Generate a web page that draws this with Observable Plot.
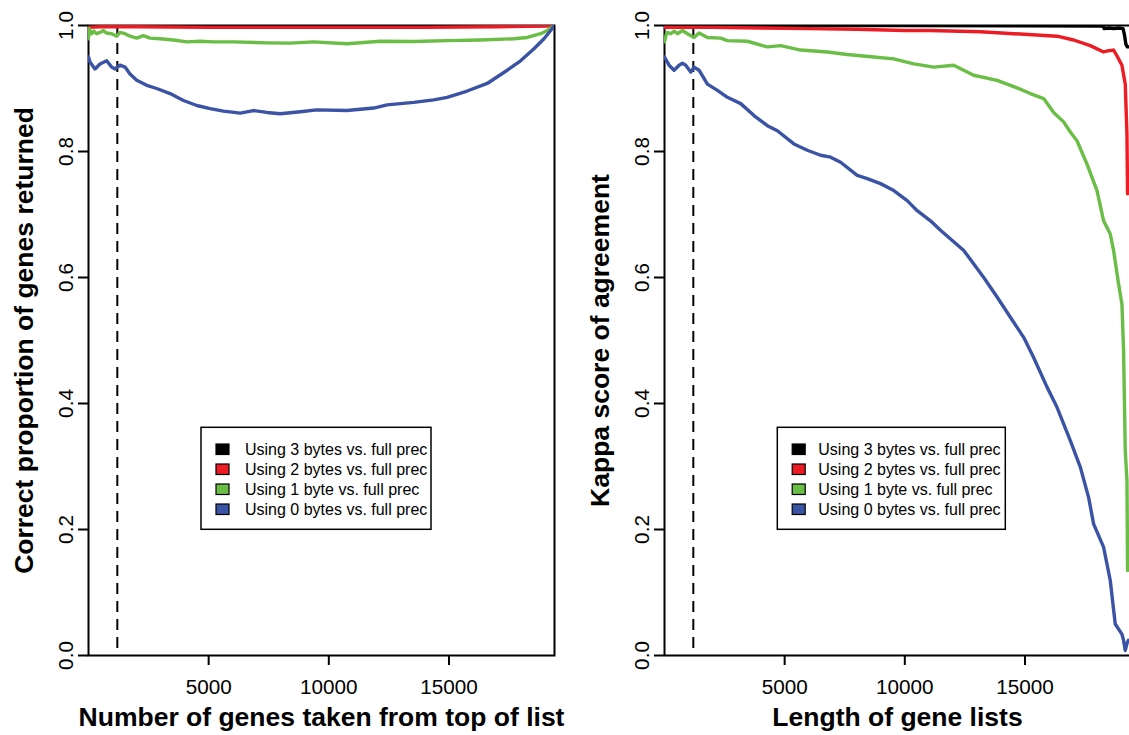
<!DOCTYPE html>
<html><head><meta charset="utf-8">
<script src="https://cdn.jsdelivr.net/npm/d3@7"></script>
<script src="https://cdn.jsdelivr.net/npm/@observablehq/plot@0.6"></script>
<style>
html,body{margin:0;padding:0;background:#fff;overflow:hidden;}
#wrap{display:flex;width:1129px;height:735px;overflow:hidden;}
#wrap svg{flex:none;display:block;}
</style></head><body><div id="wrap"></div>
<script>
// ---------- data ----------
const seriesNames = ["Using 3 bytes vs. full prec", "Using 2 bytes vs. full prec", "Using 1 byte vs. full prec", "Using 0 bytes vs. full prec"];
const seriesColors = ["#000000", "#ED1C24", "#6ABD45", "#3A53A4"];
const xTicks = [5000, 10000, 15000];
const yTicks = [0, 0.2, 0.4, 0.6, 0.8, 1.0];
const nGenes = 19390;
const geneCutoff = 1200;

const leftXTitle = "Number of genes taken from top of list";
const leftYTitle = "Correct proportion of genes returned";
const rightXTitle = "Length of gene lists";
const rightYTitle = "Kappa score of agreement";

// left panel: correct proportion of genes returned
const left3X = [1, 5000, 10000, 15000, 19390];
const left3Y = [1.0, 0.9995, 0.9995, 0.9995, 1.0];
const left2X = [1, 500, 2000, 5000, 8000, 11000, 14000, 17000, 19000, 19390];
const left2Y = [0.997, 0.998, 0.998, 0.997, 0.997, 0.997, 0.997, 0.998, 0.999, 1.0];
const left1X = [1, 35, 133, 229, 340, 479, 618, 757, 965, 1174, 1313, 1521, 1729, 2007, 2285, 2563, 2980, 3535, 4091, 4646, 5202, 6035, 7424, 8400, 9368, 10757, 12146, 13535, 14924, 16313, 17702, 18257, 18813, 19090, 19390];
const left1Y = [0.979, 0.995, 0.987, 0.991, 0.987, 0.989, 0.992, 0.988, 0.987, 0.983, 0.989, 0.987, 0.983, 0.980, 0.984, 0.980, 0.979, 0.977, 0.974, 0.975, 0.974, 0.974, 0.9725, 0.972, 0.974, 0.971, 0.975, 0.9746, 0.976, 0.977, 0.979, 0.981, 0.987, 0.992, 1.0];
const left0X = [1, 62, 271, 479, 757, 965, 1104, 1313, 1521, 1729, 2007, 2424, 2841, 3396, 3951, 4507, 5063, 5618, 6313, 6868, 7424, 7979, 8813, 9500, 10757, 11868, 12424, 13535, 14368, 14924, 15757, 16591, 17424, 17979, 18535, 18952, 19230, 19390];
const left0Y = [0.950, 0.942, 0.931, 0.939, 0.944, 0.934, 0.931, 0.937, 0.934, 0.923, 0.913, 0.905, 0.900, 0.892, 0.881, 0.873, 0.868, 0.864, 0.861, 0.865, 0.862, 0.860, 0.863, 0.866, 0.865, 0.869, 0.874, 0.878, 0.882, 0.886, 0.896, 0.908, 0.929, 0.944, 0.963, 0.979, 0.992, 1.0];

// right panel: kappa score of agreement
const right3X = [1, 5000, 10000, 15000, 18250, 18300, 18500, 18700, 18900, 19080, 19140, 19200, 19260, 19300];
const right3Y = [1.0, 1.0, 1.0, 0.9995, 0.999, 0.995, 0.996, 0.995, 0.996, 0.995, 0.985, 0.970, 0.966, 0.966];
const right2X = [1, 2000, 4000, 6000, 8000, 10000, 11064, 13145, 14530, 16333, 17023, 17717, 18270, 18478, 18686, 18825, 19033, 19172, 19242, 19267];
const right2Y = [0.997, 0.997, 0.996, 0.995, 0.994, 0.992, 0.992, 0.990, 0.987, 0.983, 0.977, 0.968, 0.958, 0.960, 0.961, 0.952, 0.937, 0.907, 0.828, 0.733];
const right1X = [1, 96, 262, 401, 540, 748, 956, 1230, 1438, 1787, 2340, 2618, 3450, 4281, 4834, 5665, 6774, 7605, 8711, 9542, 10373, 11205, 12035, 12867, 13839, 14670, 15223, 15777, 16193, 16608, 16886, 17164, 17580, 17996, 18270, 18548, 18686, 18893, 19033, 19102, 19172, 19242, 19268];
const right1Y = [0.974, 0.989, 0.987, 0.991, 0.987, 0.992, 0.987, 0.981, 0.988, 0.981, 0.980, 0.976, 0.975, 0.966, 0.968, 0.961, 0.958, 0.954, 0.950, 0.947, 0.939, 0.934, 0.937, 0.921, 0.913, 0.901, 0.892, 0.884, 0.862, 0.847, 0.831, 0.817, 0.780, 0.738, 0.690, 0.669, 0.643, 0.590, 0.558, 0.484, 0.325, 0.278, 0.135];
const right0X = [1, 192, 401, 609, 748, 886, 1094, 1230, 1438, 1787, 2203, 2618, 3171, 3725, 4281, 4697, 5386, 5943, 6496, 6912, 7327, 8021, 8437, 8989, 9542, 9820, 10099, 10515, 11068, 11484, 12452, 13283, 13839, 14392, 14945, 15360, 15917, 16333, 16886, 17302, 17647, 17854, 18270, 18548, 18755, 19033, 19102, 19172, 19242, 19300];
const right0Y = [0.950, 0.937, 0.929, 0.937, 0.940, 0.937, 0.926, 0.934, 0.929, 0.907, 0.897, 0.886, 0.876, 0.857, 0.841, 0.833, 0.812, 0.802, 0.794, 0.791, 0.783, 0.762, 0.757, 0.749, 0.738, 0.730, 0.722, 0.706, 0.690, 0.675, 0.643, 0.600, 0.569, 0.537, 0.505, 0.473, 0.426, 0.394, 0.341, 0.299, 0.251, 0.209, 0.172, 0.119, 0.050, 0.034, 0.024, 0.008, 0.019, 0.024];

// ---------- drawing ----------
const FONT = "'Liberation Sans', Arial, Helvetica, sans-serif";
const zip = (xs, ys) => xs.map((x, i) => ({x, y: ys[i]}));

function panel({width, marginRight, series, xTitle, yTitle, frame, legend}) {
  const marks = [];
  if (frame) marks.push(Plot.frame({stroke: "black", strokeWidth: 2}));
  else {
    marks.push(Plot.ruleY([0, 1], {stroke: "black", strokeWidth: 2}));
    marks.push(Plot.ruleX([1], {stroke: "black", strokeWidth: 2}));
  }
  marks.push(Plot.axisX({ticks: xTicks, tickSize: 10, tickFormat: () => "", label: null, strokeWidth: 2}));
  marks.push(Plot.axisY({ticks: yTicks, tickSize: 10, tickFormat: () => "", label: null, strokeWidth: 2}));
  marks.push(Plot.ruleX([geneCutoff], {stroke: "black", strokeWidth: 2, strokeDasharray: "11,7"}));
  series.forEach((s, i) => {
    marks.push(Plot.line(zip(s[0], s[1]), {x: "x", y: "y", stroke: seriesColors[i], strokeWidth: 3.4, strokeLinejoin: "round", clip: true}));
  });
  marks.push(Plot.text(xTicks, {x: d => d, frameAnchor: "bottom", dy: 38, lineAnchor: "bottom", textAnchor: "middle", text: d => String(d), fontSize: 20.7, fontFamily: FONT, fill: "black"}));
  marks.push(Plot.text(yTicks, {y: d => d, frameAnchor: "left", dx: -16, rotate: -90, lineAnchor: "bottom", textAnchor: "middle", text: d => d3.format(".1f")(d), fontSize: 20.7, fontFamily: FONT, fill: "black"}));
  marks.push(Plot.text([xTitle], {frameAnchor: "bottom", dy: 70, lineAnchor: "bottom", textAnchor: "middle", text: d => d, fontSize: 26.5, fontWeight: "bold", fontFamily: FONT, fill: "black"}));
  marks.push(Plot.text([yTitle], {frameAnchor: "left", dx: -56, rotate: -90, lineAnchor: "bottom", textAnchor: "middle", text: d => d, fontSize: 26.5, fontWeight: "bold", fontFamily: FONT, fill: "black"}));

  const svgEl = Plot.plot({
    width, height: 735,
    marginLeft: 88, marginRight, marginTop: 25, marginBottom: 80,
    x: {domain: [1, nGenes]},
    y: {domain: [0, 1]},
    style: {fontFamily: FONT, background: "white", overflow: "visible"},
    marks
  });

  const g = d3.select(svgEl).append("g")
    .attr("text-anchor", "start")
    .attr("font-family", FONT).attr("font-size", 16)
    .style("font-family", FONT).style("font-size", "16px");
  g.append("rect").attr("x", legend.x).attr("y", 427.3).attr("width", legend.w).attr("height", 102)
    .attr("fill", "white").attr("stroke", "black").attr("stroke-width", 1.5);
  seriesNames.forEach((name, i) => {
    const base = 454.5 + 20 * i;
    g.append("rect").attr("x", legend.sq - 6.5).attr("y", base - 10.5).attr("width", 13).attr("height", 10.5)
      .attr("fill", seriesColors[i]).attr("stroke", "black").attr("stroke-width", 1.2);
    g.append("text").attr("x", legend.tx).attr("y", base).attr("fill", "black")
      .attr("text-anchor", "start").style("font-size", "16px").text(name);
  });
  return svgEl;
}

const wrap = document.getElementById("wrap");
wrap.appendChild(panel({
  width: 576, marginRight: 22, frame: true,
  series: [[left3X, left3Y], [left2X, left2Y], [left1X, left1Y], [left0X, left0Y]],
  xTitle: leftXTitle, yTitle: leftYTitle,
  legend: {x: 201, w: 230, sq: 222.5, tx: 245}
}));
wrap.appendChild(panel({
  width: 555, marginRight: 1, frame: false,
  series: [[right3X, right3Y], [right2X, right2Y], [right1X, right1Y], [right0X, right0Y]],
  xTitle: rightXTitle, yTitle: rightYTitle,
  legend: {x: 201.3, w: 228, sq: 222.7, tx: 242.3}
}));
</script></body></html>
